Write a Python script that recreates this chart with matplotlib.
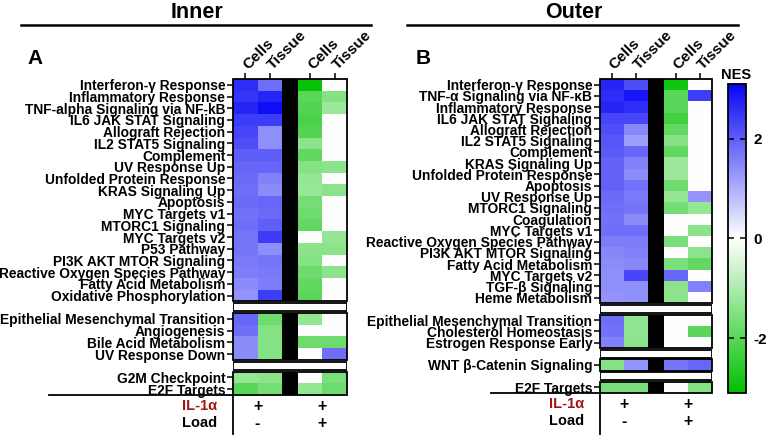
import numpy as np
import matplotlib
matplotlib.use('Agg')
import matplotlib.pyplot as plt
from matplotlib.colors import LinearSegmentedColormap
from matplotlib.patches import Rectangle
from matplotlib.lines import Line2D
from matplotlib.transforms import blended_transform_factory

plt.rcParams['font.family'] = ['Liberation Sans', 'DejaVu Sans']
plt.rcParams['font.weight'] = 'bold'

W_PX, H_PX = 768, 436

col_labels = ['Cells', 'Tissue', 'Cells', 'Tissue']

# ---------------- Inner ----------------
inner_g1 = ['Interferon-γ Response', 'Inflammatory Response', 'TNF-alpha Signaling via NF-kB',
            'IL6 JAK STAT Signaling', 'Allograft Rejection', 'IL2 STAT5 Signaling', 'Complement',
            'UV Response Up', 'Unfolded Protein Response', 'KRAS Signaling Up', 'Apoptosis',
            'MYC Targets v1', 'MTORC1 Signaling', 'MYC Targets v2', 'P53 Pathway',
            'PI3K AKT MTOR Signaling', 'Reactive Oxygen Species Pathway', 'Fatty Acid Metabolism',
            'Oxidative Phosphorylation']
inner_v1 = [[2.6, 1.8, -3.0, 0.0],
            [2.5, 2.7, -2.0, -1.5],
            [2.7, 3.0, -2.1, -1.2],
            [2.4, 2.4, -2.2, 0.0],
            [2.3, 1.4, -2.1, 0.0],
            [2.2, 1.4, -1.4, 0.0],
            [2.0, 2.0, -1.9, 0.0],
            [1.9, 1.9, -1.5, -1.4],
            [1.85, 1.55, -1.3, 0.0],
            [1.8, 1.45, -1.25, -1.4],
            [1.85, 1.9, -1.65, 0.0],
            [1.75, 1.85, -1.75, 0.0],
            [1.8, 2.0, -1.9, 0.0],
            [1.7, 2.4, 0.0, -1.3],
            [1.7, 1.4, -1.4, -1.4],
            [1.65, 1.7, -1.5, 0.0],
            [1.6, 1.65, -1.75, -1.4],
            [1.45, 1.6, -1.9, 0.0],
            [1.35, 2.4, -2.0, 0.0]]
inner_g2 = ['Epithelial Mesenchymal Transition', 'Angiogenesis', 'Bile Acid Metabolism',
            'UV Response Down']
inner_v2 = [[1.9, -1.75, -1.3, 0.0],
            [1.8, -1.5, 0.0, 0.0],
            [1.45, -1.5, -1.75, -1.75],
            [1.45, -1.5, 0.0, 1.8]]
inner_g3 = ['G2M Checkpoint', 'E2F Targets']
inner_v3 = [[-1.3, -1.4, 0.0, -1.6],
            [-2.0, -1.65, -1.3, -1.75]]

# ---------------- Outer ----------------
outer_g1 = ['Interferon-γ Response', 'TNF-α Signaling via NF-κB', 'Inflammatory Response',
            'IL6 JAK STAT Signaling', 'Allograft Rejection', 'IL2 STAT5 Signaling', 'Complement',
            'KRAS Signaling Up', 'Unfolded Protein Response', 'Apoptosis', 'UV Response Up',
            'MTORC1 Signaling', 'Coagulation', 'MYC Targets v1', 'Reactive Oxygen Species Pathway',
            'PI3K AKT MTOR Signaling', 'Fatty Acid Metabolism', 'MYC Targets v2',
            'TGF-β Signaling', 'Heme Metabolism']
outer_v1 = [[2.7, 2.2, -2.9, 0.0],
            [2.6, 2.9, -2.0, 2.4],
            [2.7, 2.6, -2.0, 0.0],
            [2.3, 2.3, -2.3, 0.0],
            [2.2, 1.5, -1.9, 0.0],
            [2.1, 1.2, -1.5, 0.0],
            [2.05, 1.9, -1.9, 0.0],
            [1.95, 1.55, -1.2, 0.0],
            [1.95, 1.45, -1.2, 0.0],
            [1.95, 1.75, -1.75, 0.0],
            [1.85, 1.65, -1.3, 1.35],
            [1.8, 1.7, -1.65, -1.3],
            [1.75, 1.45, 0.0, 0.0],
            [1.8, 1.8, 0.0, -1.4],
            [1.6, 1.6, -1.6, 0.0],
            [1.5, 1.55, 0.0, -1.4],
            [1.45, 1.5, -1.6, -1.9],
            [1.4, 2.3, 1.9, 0.0],
            [1.4, 1.4, -1.4, 1.55],
            [1.35, 1.4, -1.4, 0.0]]
outer_g2 = ['Epithelial Mesenchymal Transition', 'Cholesterol Homeostasis', 'Estrogen Response Early']
outer_v2 = [[1.8, -1.35, 0.0, 0.0],
            [1.75, -1.35, 0.0, -2.0],
            [1.55, -1.4, 0.0, 0.0]]
outer_g3 = ['WNT β-Catenin Signaling']
outer_v3 = [[-1.5, 1.35, 1.7, 1.9]]
outer_g4 = ['E2F Targets']
outer_v4 = [[-1.6, -1.6, 0.0, -1.5]]

VMIN, VMAX = -3.1, 3.1
cmap = LinearSegmentedColormap.from_list('nes', [(0.0, '#00c000'), (0.5, '#ffffff'), (1.0, '#0606f5')])
cmap.set_bad('white')

fig = plt.figure(figsize=(W_PX / 100, H_PX / 100), dpi=100)


def px_rect(x0, y0, x1, y1):
    return [x0 / W_PX, 1 - y1 / H_PX, (x1 - x0) / W_PX, (y1 - y0) / H_PX]


def fx(x):
    return x / W_PX


def fy(y):
    return 1 - y / H_PX


BW = 0.65  # width of black separator column (in cell units)


def draw_panel(box, groups, values):
    ax = fig.add_axes(px_rect(*box))
    nrows = sum(len(g) for g in groups) + len(groups) - 1
    Z = np.full((nrows, 5), np.nan)
    labels, ypos, spans, seps = [], [], [], []
    r = 0
    for gi, (g, v) in enumerate(zip(groups, values)):
        start = r
        for lab, row in zip(g, v):
            Z[r, [0, 1, 3, 4]] = row
            labels.append(lab)
            ypos.append(r + 0.5)
            r += 1
        spans.append((start, r))
        if gi < len(groups) - 1:
            seps.append(r)
            r += 1
    xedges = [0, 1, 2, 2 + BW, 3 + BW, 4 + BW]
    W = 4 + BW
    yedges = np.arange(nrows + 1)
    mesh = ax.pcolormesh(xedges, yedges, np.ma.masked_invalid(Z), cmap=cmap, vmin=VMIN, vmax=VMAX,
                         shading='flat', edgecolors='none')
    for s, e in spans:
        ax.add_patch(Rectangle((2, s), BW, e - s, facecolor='black', edgecolor='none', zorder=3))
        ax.add_patch(Rectangle((0, s), W, e - s, fill=False, edgecolor='black',
                               lw=1.3, zorder=4, clip_on=False))
    for s in seps:
        ax.add_patch(Rectangle((0, s + 0.16), W, 0.68, fill=False, edgecolor='black', lw=1.3,
                               zorder=4))
    ax.set_xlim(0, W)
    ax.set_ylim(nrows, 0)
    for sp in ax.spines.values():
        sp.set_visible(False)
    ax.set_yticks(ypos)
    ax.set_yticklabels(labels, fontsize=9.9, fontweight='bold')
    ax.tick_params(axis='y', length=4.5, width=1.1, pad=1)
    ax.xaxis.tick_top()
    ax.set_xticks([0.5, 1.5, 2.5 + BW, 3.5 + BW])
    ax.set_xticklabels(col_labels, rotation=45, ha='left', va='center', rotation_mode='anchor',
                       fontsize=11, fontweight='bold')
    ax.tick_params(axis='x', length=4.5, width=1.1, pad=4)
    return ax, mesh


ax1, mesh = draw_panel((233, 79, 347, 395), [inner_g1, inner_g2, inner_g3],
                       [inner_v1, inner_v2, inner_v3])
ax2, _ = draw_panel((600, 79, 712, 393), [outer_g1, outer_g2, outer_g3, outer_g4],
                    [outer_v1, outer_v2, outer_v3, outer_v4])

# Titles
fig.text(fx(197), fy(12), 'Inner', ha='center', va='center', fontsize=15.5, fontweight='bold')
fig.text(fx(574), fy(12), 'Outer', ha='center', va='center', fontsize=15.5, fontweight='bold')
fig.add_artist(Line2D([fx(21), fx(371)], [fy(25), fy(25)], color='black', lw=1.8))
fig.add_artist(Line2D([fx(407), fx(738)], [fy(25), fy(25)], color='black', lw=1.8))
fig.text(fx(27), fy(58), 'A', ha='left', va='center', fontsize=15, fontweight='bold')
fig.text(fx(416), fy(58), 'B', ha='left', va='center', fontsize=15, fontweight='bold')

# Bottom condition annotations
il1_color = '#a31515'
for ax, x_line0, x_v, y_top, x_lab in [(ax1, 49, 233, 395, 217), (ax2, 491, 599.5, 393, 584)]:
    fig.add_artist(Line2D([fx(x_line0), fx(x_v)], [fy(y_top), fy(y_top)], color='black', lw=1.3))
    fig.add_artist(Line2D([fx(x_v), fx(x_v)], [fy(y_top), fy(434)], color='black', lw=1.3))
    fig.text(fx(x_lab), fy(y_top + 11), 'IL-1α', ha='right', va='center', fontsize=10.5,
             fontweight='bold', color=il1_color)
    fig.text(fx(x_lab), fy(y_top + 28), 'Load', ha='right', va='center', fontsize=10.5,
             fontweight='bold')
    tr = blended_transform_factory(ax.transData, fig.transFigure)
    for xc, s1, s2 in [(1.0, '+', '-'), (3 + BW, '+', '+')]:
        fig.text(xc, fy(y_top + 11), s1, transform=tr, ha='center', va='center', fontsize=11.5,
                 fontweight='bold')
        fig.text(xc, fy(y_top + 28), s2, transform=tr, ha='center', va='center', fontsize=11.5,
                 fontweight='bold')

# Colorbar
cax = fig.add_axes(px_rect(727.5, 84, 745.5, 393))
cb = fig.colorbar(mesh, cax=cax, ticks=[-2, 0, 2])
cb.outline.set_linewidth(1.3)
cax.yaxis.set_ticks_position('both')
cax.tick_params(axis='y', direction='in', length=4, width=1.1, labelsize=11, pad=6,
                labelleft=False, labelright=True)
cax.set_yticklabels(['-2', '0', '2'], fontweight='bold')
fig.text(fx(736.5), fy(75), 'NES', ha='center', va='center', fontsize=10.5, fontweight='bold')

fig.savefig('out.png', dpi=100)
